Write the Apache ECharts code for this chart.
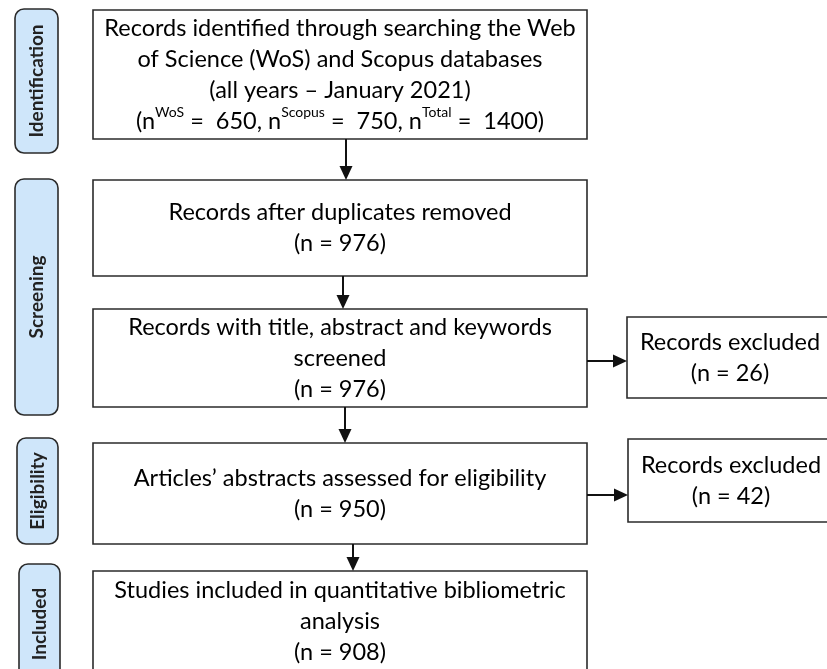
<!DOCTYPE html>
<html>
<head>
<meta charset="utf-8">
<script src="https://cdn.jsdelivr.net/npm/echarts@6/dist/echarts.min.js"></script>
<style>
    html, body { margin: 0; padding: 0; background: #fff; }
    #flowChart { width: 827px; height: 669px; }
</style>
</head>
<body>
<div id="flowChart"></div>
<script>
    // data
    const stages = ['Identification', 'Screening', 'Eligibility', 'Included'];
    const sourceNames = ['WoS', 'Scopus', 'Total'];
    const sourceCounts = [650, 750, 1400];
    const stepTitles = [
        'Records after duplicates removed',
        'Records with title, abstract and keywords\nscreened',
        'Articles\u2019 abstracts assessed for eligibility',
        'Studies included in quantitative bibliometric\nanalysis'
    ];
    const stepCounts = [976, 976, 950, 908];
    const excludedTitle = 'Records excluded';
    const excludedCounts = [26, 42];

    // layout (x, y, w, h in page pixels)
    const stageBoxes = [[15, 9, 43, 144], [15, 179, 43, 236], [17, 438, 41, 106], [19, 564, 41, 120]];
    const mainBoxes = [[93, 10, 494, 129], [93, 180, 494, 96], [93, 309, 494, 98], [93, 443, 494, 101], [93, 571, 494, 110]];
    const sideBoxes = [[627, 317, 206, 81], [628, 439, 206, 83]];
    const arrows = [[346, 139, 346, 180], [343, 276, 343, 309], [345, 407, 345, 443], [353, 544, 353, 571], [587, 361, 627, 361], [587, 495, 628, 495]];

    const FONT = 'Lato, "Open Sans", sans-serif';
    const TXT = '#222';
    const LINE = '#2b2b2b';

    const firstText = '{t|Records identified through searching the Web}\n{t|of Science (WoS) and Scopus databases}\n{t|(all years \u2013 January 2021)}\n'
        + '{t|(n}' + sourceNames.map((n, i) => '{s|' + n + '}{t| =  ' + sourceCounts[i] + (i < 2 ? ', n}' : ')}')).join('');

    const mainTexts = [firstText].concat(stepTitles.map((s, i) =>
        s.split('\n').map(l => '{t|' + l + '}').join('\n') + '\n{t|(n = ' + stepCounts[i] + ')}'));
    const sideTexts = excludedCounts.map(c => '{t|' + excludedTitle + '}\n{t|(n = ' + c + ')}');

    const rich = {
        t: {fontSize: 23.5, lineHeight: 31, fontFamily: FONT, color: TXT},
        s: {fontSize: 14, lineHeight: 16, fontFamily: FONT, color: TXT, verticalAlign: 'top'}
    };

    function boxEl(api, b, fill, r) {
        const p0 = api.coord([b[0], b[1]]);
        const p1 = api.coord([b[0] + b[2], b[1] + b[3]]);
        return {
            type: 'rect',
            shape: {x: p0[0], y: p0[1], width: p1[0] - p0[0], height: p1[1] - p0[1], r: r || 0},
            style: {fill: fill, stroke: LINE, lineWidth: 1.6}
        };
    }

    function renderItem(params, api) {
        const kind = api.value(0), i = api.value(1);
        if (kind === 0) {
            const b = stageBoxes[i];
            const c = api.coord([b[0] + b[2] / 2, b[1] + b[3] / 2]);
            return {type: 'group', children: [
                boxEl(api, b, '#cfe6fa', 9),
                {type: 'text', x: c[0], y: c[1], rotation: Math.PI / 2,
                    style: {text: stages[i], fontSize: 19, fontWeight: 'bold', fontFamily: FONT, fill: TXT,
                        align: 'center', verticalAlign: 'middle'}}
            ]};
        }
        if (kind === 1) {
            const b = mainBoxes[i];
            const last = i === mainBoxes.length - 1;
            const c = api.coord([b[0] + b[2] / 2, last ? b[1] + 4 : b[1] + b[3] / 2]);
            return {type: 'group', children: [
                boxEl(api, b, '#fff'),
                {type: 'text', x: c[0], y: c[1],
                    style: {text: mainTexts[i], rich: rich, align: 'center', verticalAlign: last ? 'top' : 'middle'}}
            ]};
        }
        if (kind === 2) {
            const b = sideBoxes[i];
            const c = api.coord([b[0] + b[2] / 2, b[1] + b[3] / 2]);
            return {type: 'group', children: [
                boxEl(api, b, '#fff'),
                {type: 'text', x: c[0], y: c[1],
                    style: {text: sideTexts[i], rich: rich, align: 'center', verticalAlign: 'middle'}}
            ]};
        }
        // arrows
        const a = arrows[i];
        const s = api.coord([a[0], a[1]]), e = api.coord([a[2], a[3]]);
        const ang = Math.atan2(e[1] - s[1], e[0] - s[0]);
        const L = 14, W = 6.5;
        const bx = e[0] - L * Math.cos(ang), by = e[1] - L * Math.sin(ang);
        const px = -Math.sin(ang) * W, py = Math.cos(ang) * W;
        return {type: 'group', children: [
            {type: 'line', shape: {x1: s[0], y1: s[1], x2: bx, y2: by}, style: {stroke: '#111', lineWidth: 2}},
            {type: 'polygon', shape: {points: [[e[0], e[1]], [bx + px, by + py], [bx - px, by - py]]}, style: {fill: '#111'}}
        ]};
    }

    const items = []
        .concat(stageBoxes.map((b, i) => [0, i]))
        .concat(mainBoxes.map((b, i) => [1, i]))
        .concat(sideBoxes.map((b, i) => [2, i]))
        .concat(arrows.map((b, i) => [3, i]));

    const chart = echarts.init(document.getElementById('flowChart'));
    chart.setOption({
        animation: false,
        grid: {left: 0, right: 0, top: 0, bottom: 0},
        xAxis: {type: 'value', min: 0, max: 827, show: false},
        yAxis: {type: 'value', min: 0, max: 669, inverse: true, show: false},
        series: [{
            type: 'custom',
            renderItem: renderItem,
            clip: true,
            data: items
        }]
    });
</script>
</body>
</html>
